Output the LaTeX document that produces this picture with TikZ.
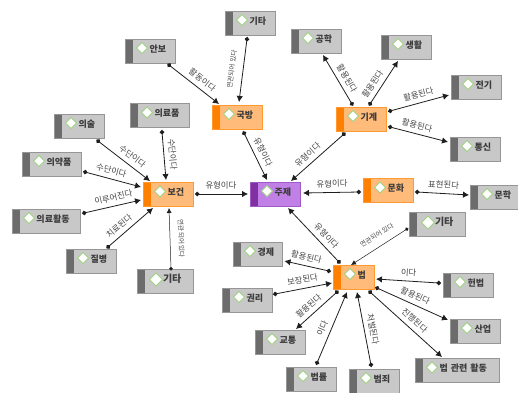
\documentclass[tikz,border=0pt]{standalone}
\usepackage{fontspec}
\setmainfont{Noto Sans CJK KR}
\usetikzlibrary{arrows.meta}

\tikzset{
    icon size/.store in=\iconr, icon size=5.5,
    text inset/.store in=\textinset, text inset=24.5pt,
    basebox/.style={draw, line width=.8pt, inner xsep=0pt, inner ysep=0pt,
        minimum height=24pt, align=left, text height=7pt, text depth=5pt,
        text=boxtext, font=\fontsize{9}{9}\selectfont\bfseries,
        execute at begin node={\hspace*{\textinset}},
        path picture={
            \fill[#1] (path picture bounding box.north west) rectangle ([xshift=8pt]path picture bounding box.south west);
            \filldraw[draw=icongreen, fill=white, line width=.9pt]
                ([shift={({\iconr+6},{\iconr+3.5})}]path picture bounding box.north west)
                -- ++({\iconr},{-\iconr}) -- ++({\iconr},{\iconr}) -- ++({-\iconr},{\iconr}) -- cycle;
        }},
    graybox/.style={basebox=graybar, fill=grayfill, draw=grayline, text width=#1pt},
    orangebox/.style={basebox=orangebar, fill=orangefill, draw=orangeline, text width=#1pt},
    purplebox/.style={basebox=purplebar, fill=purplefill, draw=purpleline, text width=#1pt},
    bigbox/.style={icon size=6.5, text inset=26pt, font=\fontsize{10}{10}\selectfont\bfseries},
    link/.style={{Circle[length=4.5pt]}-{Latex[length=6pt,width=6.5pt]}, line width=.8pt, draw=linkcol, shorten <=-2pt},
    thinlink/.style={{Circle[length=3.5pt]}-{Latex[length=5pt,width=5pt]}, line width=.5pt, draw=linkcol, shorten <=-1.5pt},
    linklabel/.style={above=2.5pt, sloped, text=labeltext, inner sep=2pt, font=\fontsize{8.4}{8.4}\selectfont},
    smalllabel/.style={linklabel, above=3.5pt, font=\fontsize{6.6}{6.6}\selectfont},
}

\begin{document}
\begin{tikzpicture}[x=1pt,y=-1pt]
    % 색상
    \definecolor{grayfill}{RGB}{200,200,200}
    \definecolor{grayline}{RGB}{150,150,150}
    \definecolor{graybar}{RGB}{108,108,108}
    \definecolor{orangefill}{RGB}{255,187,122}
    \definecolor{orangeline}{RGB}{255,153,51}
    \definecolor{orangebar}{RGB}{255,127,0}
    \definecolor{purplefill}{RGB}{192,128,230}
    \definecolor{purpleline}{RGB}{160,90,200}
    \definecolor{purplebar}{RGB}{128,48,160}
    \definecolor{icongreen}{RGB}{160,210,130}
    \definecolor{boxtext}{RGB}{60,60,60}
    \definecolor{labeltext}{RGB}{70,70,70}
    \definecolor{linkcol}{RGB}{30,30,30}

    \useasboundingbox (0,0) rectangle (518,392);

    % 가운데
    \node[purplebox=50] (juje) at (275,194) {주제};

    % 주황 노드
    \node[orangebox=50] (gukbang) at (237,117) {국방};
    \node[orangebox=50] (bogeon) at (168,194.5) {보건};
    \node[orangebox=50] (gigye) at (361,119) {기계};
    \node[orangebox=50] (munhwa) at (388,190.5) {문화};
    \node[orangebox=41] (beop) at (353.5,277) {법};

    % 회색 노드
    \node[graybox=50] (gitaA) at (250,23) {기타};
    \node[graybox=50] (anbo) at (150,51) {안보};
    \node[graybox=59] (uiryopum) at (159.5,115.5) {의료품};
    \node[graybox=50] (uisul) at (79,126) {의술};
    \node[graybox=59] (uiyakpum) at (51.5,164) {의약품};
    \node[graybox=68] (uiryohwal) at (46,221) {의료활동};
    \node[graybox=50] (jilbyeong) at (91,261) {질병};
    \node[graybox=56,bigbox] (gitaB) at (165,281.5) {기타};
    \node[graybox=50] (gonghak) at (316,41) {공학};
    \node[graybox=50] (saenghwal) at (406,47) {생활};
    \node[graybox=50] (jeongi) at (476,87) {전기};
    \node[graybox=50] (tongsin) at (475,149) {통신};
    \node[graybox=50] (munhak) at (495,197) {문학};
    \node[graybox=56,bigbox] (gitaC) at (437,224.5) {기타};
    \node[graybox=49] (gyeongje) at (257.5,254) {경제};
    \node[graybox=50] (gwolli) at (247,300) {권리};
    \node[graybox=50] (gyotong) at (280,342) {교통};
    \node[graybox=50] (heonbeop) at (468,285) {헌법};
    \node[graybox=50] (saneop) at (475,331) {산업};
    \node[graybox=84] (beopgwan) at (457,370.5) {법 관련 활동};
    \node[graybox=50] (beomjoe) at (374,381) {범죄};
    \node[graybox=50] (beomnyul) at (311,379) {법률};

    % 연결선
    \draw[link] ([shift={(19,14)}]anbo.center) -- node[linklabel,pos=.56]{활동이다} ([shift={(-18,-13)}]gukbang.center);
    \draw[link] ([shift={(-3,16)}]gitaA.center) -- node[smalllabel]{연관되어 있다} ([shift={(2,-15)}]gukbang.center);
    \draw[link] ([shift={(7,16)}]gukbang.center) -- node[linklabel,pos=.49]{유형이다} ([shift={(-8,-14)}]juje.center);
    \draw[link] ([shift={(2.5,16.5)}]uiryopum.center) -- node[linklabel,pos=.48]{수단이다} ([shift={(-2,-14.5)}]bogeon.center);
    \draw[link] ([shift={(19,15)}]uisul.center) -- node[linklabel,pos=.56]{수단이다} ([shift={(-18,-13.5)}]bogeon.center);
    \draw[link] ([shift={(33.5,8)}]uiyakpum.center) -- node[linklabel,pos=.43]{수단이다} ([shift={(-27,-7.5)}]bogeon.center);
    \draw[link] ([shift={(38,-8)}]uiryohwal.center) -- node[linklabel,pos=.55]{이루어진다} ([shift={(-27,5.5)}]bogeon.center);
    \draw[link] ([shift={(17,-14)}]jilbyeong.center) -- node[linklabel,pos=.37]{치료된다} ([shift={(-15,13.5)}]bogeon.center);
    \draw[thinlink] ([shift={(6,-12.5)}]gitaB.center) -- node[smalllabel,pos=.49]{연관되어 있다} ([shift={(1,13.5)}]bogeon.center);
    \draw[link] ([shift={(29,-.5)}]bogeon.center) -- node[linklabel,pos=.47]{유형이다} ([shift={(-27,0)}]juje.center);
    \draw[link] ([shift={(-17,15)}]gigye.center) -- node[linklabel,pos=.58]{유형이다} ([shift={(16,-13)}]juje.center);
    \draw[link] ([shift={(-9,-15)}]gigye.center) -- node[linklabel,pos=.43]{활용된다} ([shift={(7,14)}]gonghak.center);
    \draw[link] ([shift={(9,-15)}]gigye.center) -- node[linklabel,pos=.35]{활용된다} ([shift={(-8,14)}]saenghwal.center);
    \draw[link] ([shift={(29,-8)}]gigye.center) -- node[linklabel,pos=.52]{활용된다} ([shift={(-27,8)}]jeongi.center);
    \draw[link] ([shift={(29,8)}]gigye.center) -- node[linklabel,pos=.43]{활용된다} ([shift={(-27,-7)}]tongsin.center);
    \draw[link] ([shift={(-29,1.5)}]munhwa.center) -- node[linklabel,pos=.48]{유형이다} ([shift={(28,-1)}]juje.center);
    \draw[link] ([shift={(29,1.5)}]munhwa.center) -- node[linklabel]{표현된다} ([shift={(-26,-2)}]munhak.center);
    \draw[link] ([shift={(-14.5,-15)}]beop.center) -- node[linklabel,pos=.37]{유형이다} ([shift={(13,14)}]juje.center);
    \draw[thinlink] ([shift={(-30,4.5)}]gitaC.center) -- node[smalllabel,pos=.43]{연관되어 있다} ([shift={(-2.5,-12)}]beop.center);
    \draw[link] ([shift={(-24.5,-6)}]beop.center) -- node[linklabel,pos=.55]{활용된다} ([shift={(27,7)}]gyeongje.center);
    \draw[link] ([shift={(28,-6)}]gwolli.center) -- node[linklabel,pos=.51]{보장된다} ([shift={(-21.5,6)}]beop.center);
    \draw[link] ([shift={(-16.5,15)}]beop.center) -- node[linklabel,pos=.55]{활용된다} ([shift={(16,-13)}]gyotong.center);
    \draw[link] ([shift={(6,-16)}]beomnyul.center) -- node[linklabel,pos=.44]{이다} ([shift={(-6.5,15)}]beop.center);
    \draw[link] ([shift={(-3,-16)}]beomjoe.center) -- node[linklabel,pos=.47]{처벌된다} ([shift={(3.5,15)}]beop.center);
    \draw[link] ([shift={(-29,-2)}]heonbeop.center) -- node[linklabel,pos=.49]{이다} ([shift={(22.5,2)}]beop.center);
    \draw[link] ([shift={(23.5,11)}]beop.center) -- node[linklabel,pos=.49]{활용된다} ([shift={(-27,-11)}]saneop.center);
    \draw[link] ([shift={(16.5,15)}]beop.center) -- node[linklabel,pos=.54]{진행된다} ([shift={(-15,-13.5)}]beopgwan.center);
\end{tikzpicture}
\end{document}
